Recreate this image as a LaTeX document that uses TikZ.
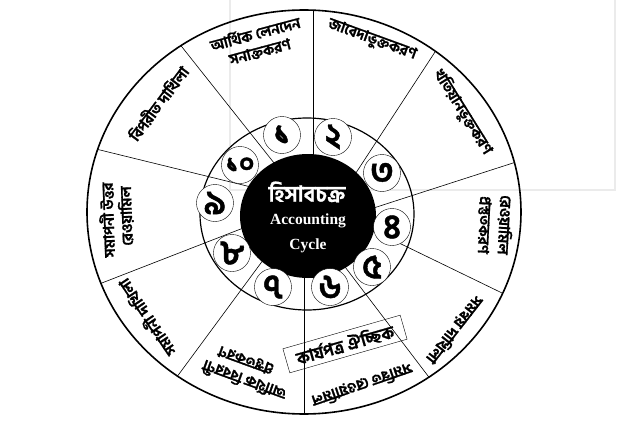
\documentclass[tikz,border=0pt]{standalone}
\usepackage{fontspec}
\newfontfamily\bnfont[Script=Bengali, FakeBold=1.2]{Hind Siliguri}
\newfontfamily\enfont{Liberation Serif}
\usetikzlibrary{calc}
\begin{document}
\begin{tikzpicture}[x=1pt,y=1pt]
\tikzstyle{steptext} = [font=\bnfont\bfseries\fontsize{15}{16}\selectfont, inner sep=0, align=center]
\tikzstyle{numcircle} = [shape=circle, draw, fill=white, minimum size=37pt, inner sep=0, font=\bnfont\bfseries\fontsize{34}{34}\selectfont]
\tikzstyle{divider} = [draw, semithick]
\tikzstyle{centertext} = [text=white, inner sep=0]
\useasboundingbox (-304,-214) rectangle (315,212);
\draw[black!8, line width=1.5pt] (-74,212) -- (-74,22) -- (311,22) -- (311,212);
% dividing lines, inner end and outer end
\coordinate (i1) at (9,42);     \coordinate (o1) at (9,202);
\coordinate (i2) at (-22,39);   \coordinate (o2) at (-122,165);
\coordinate (i3) at (46,30);    \coordinate (o3) at (131,160);
\coordinate (i4) at (51,-2);    \coordinate (o4) at (209,49);
\coordinate (i5) at (60,-14);   \coordinate (o5) at (196,-80);
\coordinate (i6) at (35,-47);   \coordinate (o6) at (121,-160);
\coordinate (i7) at (0,-48);    \coordinate (o7) at (0,-202);
\coordinate (i8) at (-32,-36);  \coordinate (o8) at (-122,-158);
\coordinate (i9) at (-53,-13);  \coordinate (o9) at (-197,-69);
\coordinate (i10) at (-53,25);  \coordinate (o10) at (-204,62);
\begin{scope}
\clip (0,0) ellipse [x radius=217, y radius=202];
\foreach \n in {1,...,10}
{
	\draw [divider] (i\n) -- ($(i\n)!1.3!(o\n)$);
}
\end{scope}
\draw[line width=1.6pt] (0,0) ellipse [x radius=217, y radius=202];
\draw[line width=1.2pt] (3,-2) ellipse [x radius=107, y radius=96];
\fill (4,-4) ellipse [x radius=68, y radius=62];
% numbers
\foreach \pos/\num [count=\k] in {(-22,77)/১, (29,75)/২, (78,39)/৩, (88,-15)/৪, (68,-55)/৫,
	(26,-75)/৬, (-31,-75)/৭, (-72,-41)/৮, (-89,9)/৯}
{
	\node [numcircle] (n\k) at \pos {\num};
}
\node [numcircle, font=\bnfont\bfseries\fontsize{26}{26}\selectfont] (n10) at (-64,47) {১০};
% centre
\node [centertext, font=\bnfont\bfseries\fontsize{22}{22}\selectfont] (title) at (3,20) {হিসাবচক্র};
\node [centertext, font=\enfont\bfseries\fontsize{15.5}{16}\selectfont] (acc) at (4,-9) {Accounting};
\node [centertext, font=\enfont\bfseries\fontsize{15.5}{16}\selectfont] (cyc) at (4,-34) {Cycle};
% steps
\node [steptext, rotate=15] (s1a) at (-49,179) {আর্থিক লেনদেন};
\node [steptext, rotate=15] (s1b) at (-44,160) {সনাক্তকরণ};
\node [steptext, rotate=-20] (s2) at (68,172) {জাবেদাভুক্তকরণ};
\node [steptext, rotate=-58] (s3) at (159,100) {খতিয়ানভুক্তকরণ};
\node [steptext, rotate=-93] (s4a) at (201,-13) {রেওয়ামিল};
\node [steptext, rotate=-93] (s4b) at (180,-13) {প্রস্তুতকরণ};
\node [steptext, rotate=-128] (s5) at (151,-118) {সমন্বয় দাখিলা};
\node [steptext, rotate=-161] (s6) at (58,-173) {সমন্বিত রেওয়ামিল};
\node [steptext, rotate=160] (s7a) at (-60,-169) {আর্থিক বিবরণী};
\node [steptext, rotate=160] (s7b) at (-58,-148) {প্রস্তুতকরণ};
\node [steptext, rotate=124] (s8) at (-158,-106) {সমাপনী দাখিলা};
\node [steptext, rotate=92] (s9a) at (-197,-8) {সমাপনী উত্তর};
\node [steptext, rotate=92] (s9b) at (-178,-4) {রেওয়ামিল};
\node [steptext, rotate=53] (s10) at (-146,109) {বিপরীত দাখিলা};
\node [steptext, draw, rotate=16, minimum width=122pt, minimum height=25pt, font=\bnfont\bfseries\fontsize{17}{17}\selectfont] (opt) at (41,-132) {কার্যপত্র ঐচ্ছিক};
\end{tikzpicture}
\end{document}
